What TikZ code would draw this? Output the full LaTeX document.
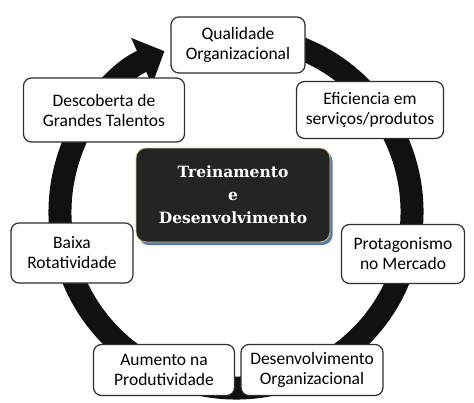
\documentclass[tikz,border=0pt]{standalone}
\usepackage{fontspec}
\setmainfont{Carlito}
\newfontfamily\titlefont{DejaVu Serif}
\usetikzlibrary{arrows.meta,shadows}
\definecolor{ringc}{HTML}{111111}
\definecolor{boxline}{HTML}{2E2E2E}
\definecolor{corefill}{HTML}{242424}
\definecolor{rim}{HTML}{D6C68C}
\definecolor{shade}{HTML}{5A7AA8}

\begin{document}
\begin{tikzpicture}[x=1pt,y=1pt,
  benefit/.style={draw=boxline,line width=1.2pt,rounded corners=8pt,fill=white,
    align=center,inner sep=0pt,font=\fontsize{17.5}{20}\selectfont},
  corebox/.style={draw=rim,line width=0.8pt,rounded corners=10pt,fill=corefill,
    text=white,align=center,inner sep=0pt,
    font=\titlefont\bfseries\fontsize{15.5}{23}\selectfont,
    drop shadow={shadow xshift=2.5pt,shadow yshift=-3pt,fill=shade,opacity=1}}]
  \useasboundingbox (0,0) rectangle (474,-402);
  % the cycle
  \draw[ringc,line width=23pt,-{Triangle[length=25pt,width=50pt]}]
    (236,-212) ++(78:176) arc[start angle=78,end angle=-246,radius=176];
  % the benefits round it
  \node[benefit,minimum width=134pt,minimum height=56pt] (qual) at (238,-45) {Qualidade\\Organizacional};
  \node[benefit,minimum width=147pt,minimum height=57pt] (efic) at (370,-110) {Eficiencia em\\serviços/produtos};
  \node[benefit,minimum width=161pt,minimum height=64pt] (desc) at (104,-110) {Descoberta de\\Grandes Talentos};
  \node[benefit,minimum width=122pt,minimum height=60pt] (baixa) at (72,-253) {Baixa\\Rotatividade};
  \node[benefit,minimum width=123pt,minimum height=59pt] (prot) at (403,-254) {Protagonismo\\no Mercado};
  \node[benefit,minimum width=141pt,minimum height=51pt] (aum) at (164,-370) {Aumento na\\Produtividade};
  \node[benefit,minimum width=142pt,minimum height=51pt] (dorg) at (312,-370) {Desenvolvimento\\Organizacional};
  \node[corebox,minimum width=194pt,minimum height=94pt] (td) at (233,-195) {Treinamento\\e\\Desenvolvimento};
\end{tikzpicture}
\end{document}
